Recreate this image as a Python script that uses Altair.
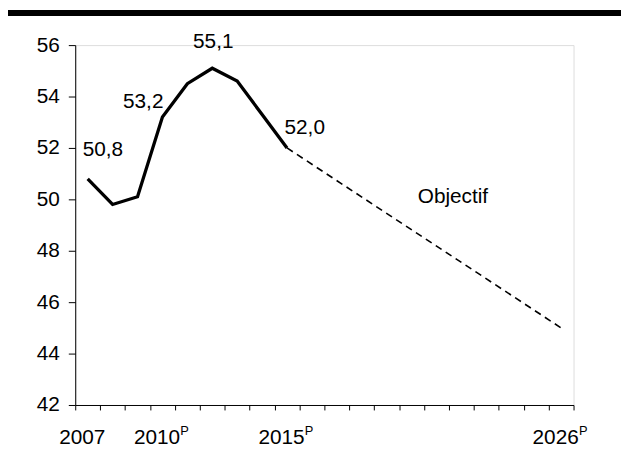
import altair as alt
import pandas as pd

# Categories (years on the x axis)
years_all = ["2007", "2008", "2009", "2010", "2011", "2012", "2013", "2014", "2015",
             "2016", "2017", "2018", "2019", "2020", "2021", "2022", "2023", "2024",
             "2025", "2026"]
shown_labels = ["2007", "2010", "2015", "2026"]
p_years = ["2010", "2015", "2026"]

# Historical series (solid)
hist_years = ["2007", "2008", "2009", "2010", "2011", "2012", "2013", "2014", "2015"]
hist_values = [50.8, 49.8, 50.1, 53.2, 54.5, 55.1, 54.6, 53.3, 52.0]

# Target path (dashed)
target_years = ["2015", "2026"]
target_values = [52.0, 45.0]

# Value labels
lab_years = ["2007", "2010", "2012", "2015"]
lab_values = [50.8, 53.2, 55.1, 52.0]
lab_texts = ["50,8", "53,2", "55,1", "52,0"]

# Annotation
ann_year = ["2022"]
ann_value = [50.0]
ann_text = ["Objectif"]

y_ticks = [42, 44, 46, 48, 50, 52, 54, 56]

W, H = 504, 364
FONT = "Liberation Sans"
FS = 21

xscale = alt.Scale(type="band", domain=years_all, paddingInner=0, paddingOuter=0)
yscale = alt.Scale(domain=[42, 56], nice=False, zero=False)

hist = pd.DataFrame({"year": hist_years, "value": hist_values})
target = pd.DataFrame({"year": target_years, "value": target_values})
labels = pd.DataFrame({"year": lab_years, "value": lab_values, "text": lab_texts})
ann = pd.DataFrame({"year": ann_year, "value": ann_value, "text": ann_text})
pdf = pd.DataFrame({"year": p_years, "text": ["P"] * len(p_years)})

label_expr = "indexof([" + ",".join("'%s'" % s for s in shown_labels) + "], datum.value) >= 0 ? datum.value : ''"

x_axis = alt.Axis(
    title=None, tickBand="extent", labelExpr=label_expr, labelOverlap=False,
    labelFontSize=FS, labelFont=FONT, labelColor="black", labelOffset=-6,
    tickSize=5, tickColor="black", domainColor="black", labelPadding=17,
    labelAngle=0, grid=False,
)
y_axis = alt.Axis(
    title=None, values=y_ticks, labelFontSize=FS, labelFont=FONT, labelColor="black",
    tickSize=7, tickColor="black", domainColor="black", labelPadding=9, grid=False,
)

base_x = alt.X("year:O", scale=xscale, axis=x_axis, bandPosition=0.5)
base_y = alt.Y("value:Q", scale=yscale, axis=y_axis)

line_hist = alt.Chart(hist).mark_line(color="black", strokeWidth=3.3).encode(
    x=base_x, y=base_y)

line_target = alt.Chart(target).mark_line(color="black", strokeWidth=1.6, strokeDash=[7, 5]).encode(
    x=alt.X("year:O", scale=xscale, bandPosition=0.5),
    y=alt.Y("value:Q", scale=yscale))

offsets = [(15.4, -23, "center"), (1, -9, "right"), (1, -20, "center"), (-2.5, -14, "left")]
text_layers = []
for i, (dx, dy, al) in enumerate(offsets):
    text_layers.append(
        alt.Chart(labels.iloc[[i]]).mark_text(
            font=FONT, fontSize=FS, color="black", dx=dx, dy=dy, align=al, baseline="alphabetic"
        ).encode(
            x=alt.X("year:O", scale=xscale, bandPosition=0.5),
            y=alt.Y("value:Q", scale=yscale),
            text="text:N",
        )
    )

ann_layer = alt.Chart(ann).mark_text(
    font=FONT, fontSize=FS, color="black", dx=-8.6, dy=4, align="center", baseline="alphabetic"
).encode(
    x=alt.X("year:O", scale=xscale, bandPosition=0.5),
    y=alt.Y("value:Q", scale=yscale),
    text="text:N",
)

p_layer = alt.Chart(pdf).mark_text(
    font=FONT, fontSize=13, color="black", dx=18, align="left", baseline="alphabetic"
).encode(
    x=alt.X("year:O", scale=xscale, bandPosition=0.5),
    y=alt.value(H + 30),
    text="text:N",
)

top_bar = alt.Chart(hist).mark_rule(color="black", strokeWidth=5).encode(
    x=alt.value(-68), x2=alt.value(W + 48), y=alt.value(-32.5)
)

chart = alt.layer(
    line_hist, line_target, *text_layers, ann_layer, p_layer, top_bar
).properties(
    width=W, height=H,
    padding={"left": 68, "top": 35, "right": 48, "bottom": 45},
    autosize=alt.AutoSizeParams(type="none"),
).configure_view(stroke=None).configure(background="white")

chart.save("out.html", embed_options={"renderer": "svg", "actions": False})
